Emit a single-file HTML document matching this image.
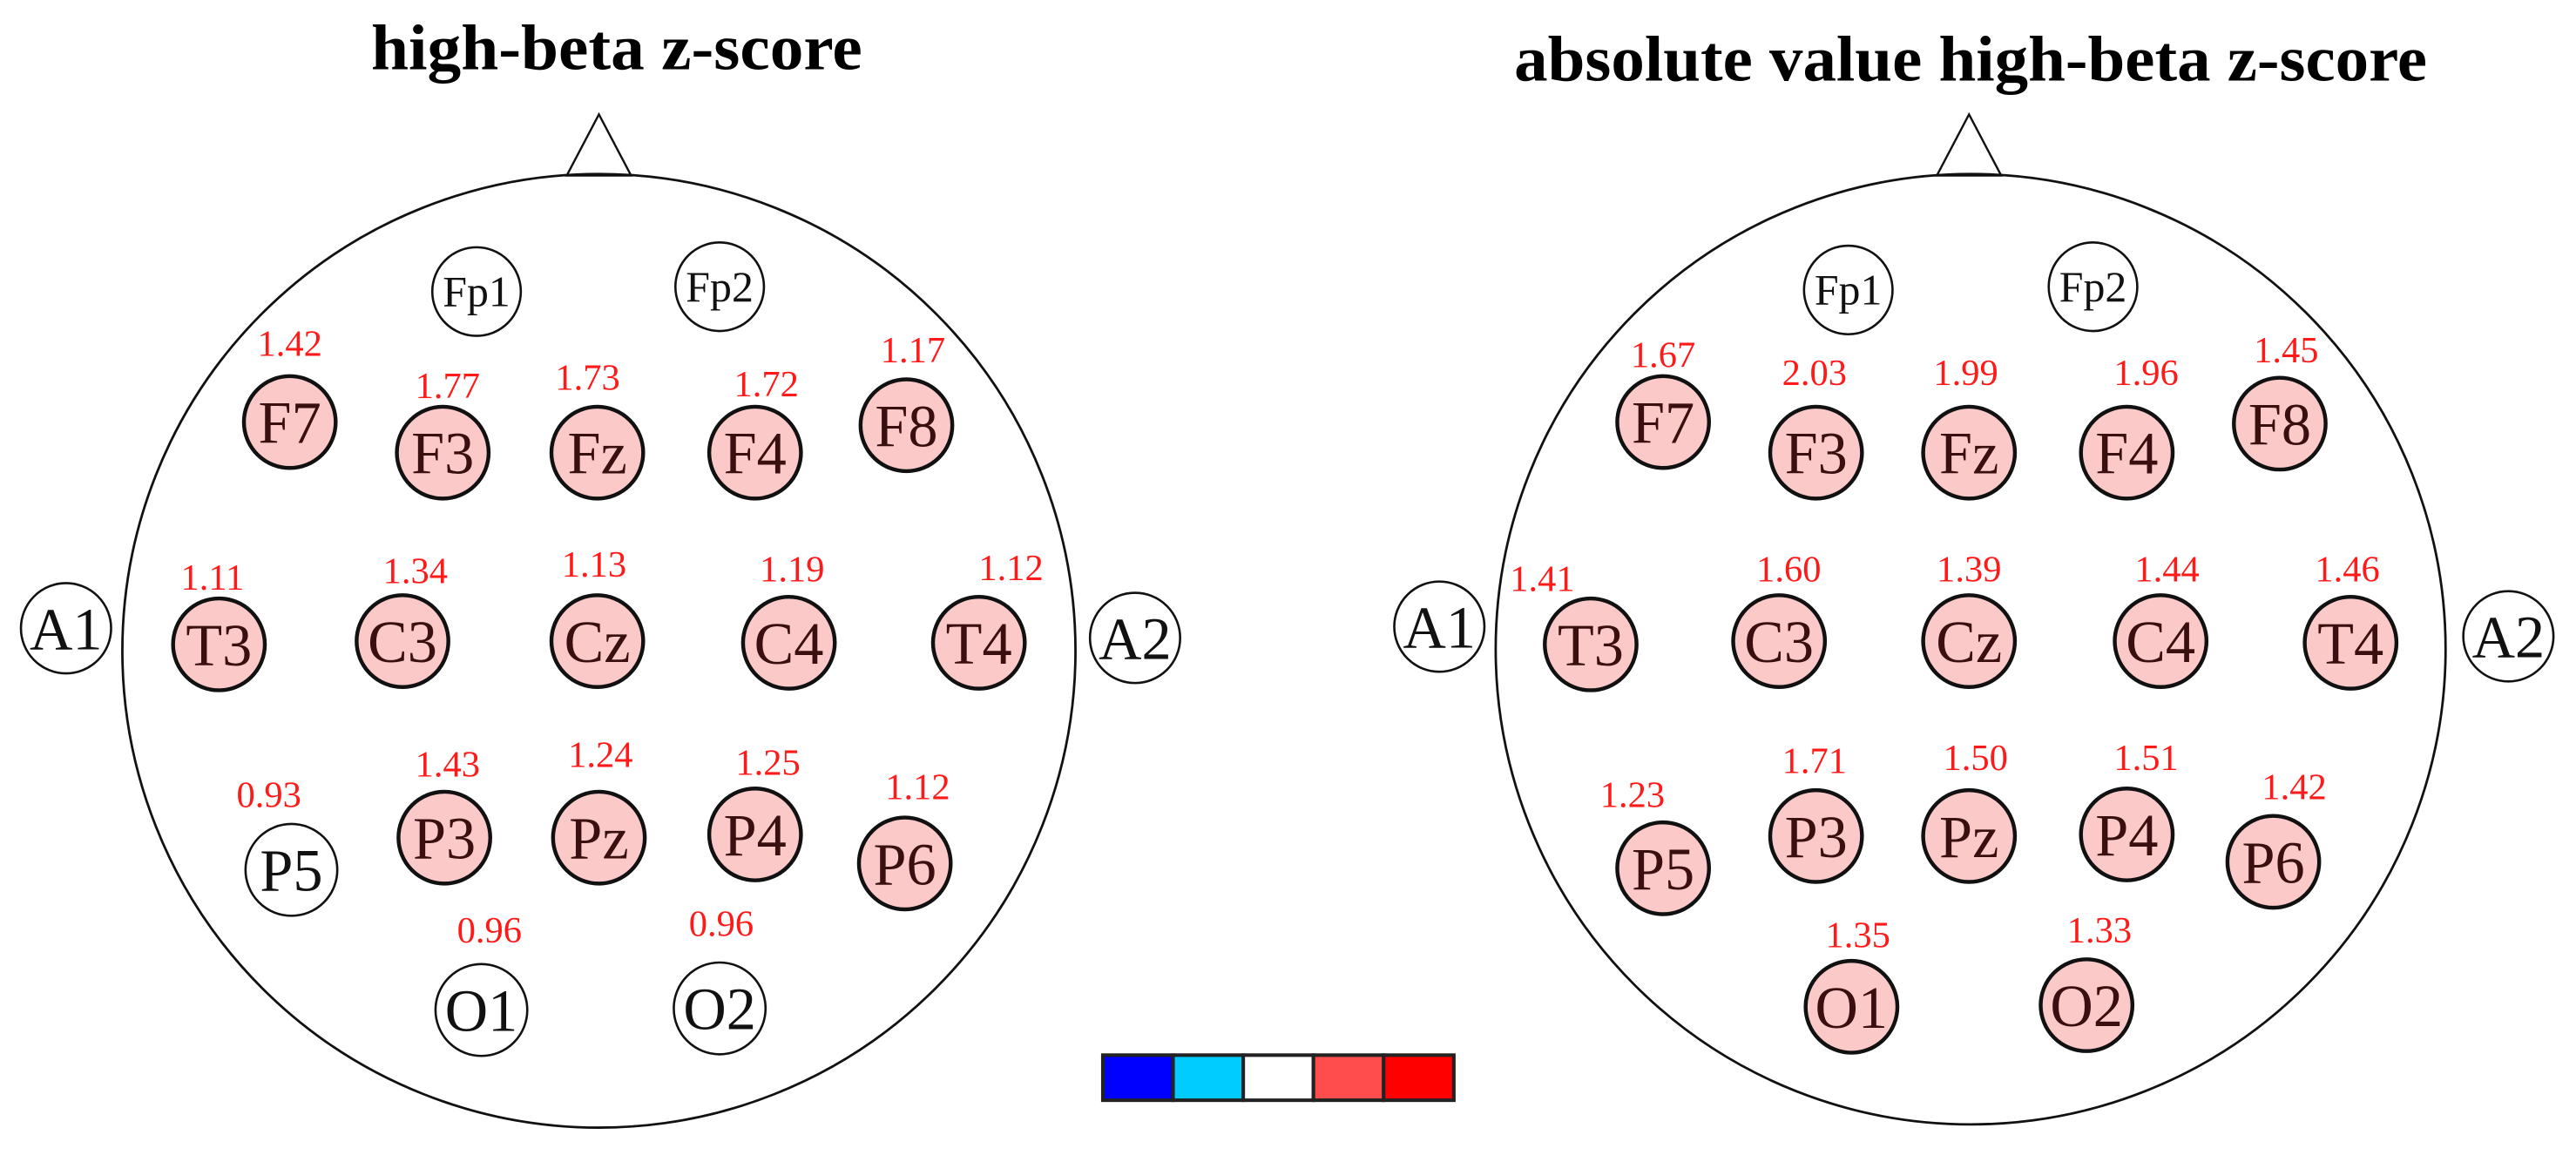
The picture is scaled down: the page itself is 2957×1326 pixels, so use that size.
<!DOCTYPE html>
<html><head><meta charset="utf-8"><style>
html,body{margin:0;padding:0;background:#fff;}
svg{display:block;}
text{font-family:"Liberation Serif",serif;}
</style></head><body>
<svg width="2957" height="1326" viewBox="0 0 1600 717" preserveAspectRatio="none" xmlns="http://www.w3.org/2000/svg">
<defs>
<style>
.n{fill:#fcc9c9;stroke:#111;stroke-width:2.4;}
.w{fill:#fff;stroke:#111;stroke-width:1.4;}
.l{font-size:37px;fill:#3a0f0f;text-anchor:middle;}
.k{font-size:37px;fill:#111;text-anchor:middle;}
.s{font-size:27px;fill:#111;text-anchor:middle;}
.v{font-size:23px;fill:#ff1a1a;text-anchor:middle;}
.t{font-size:40px;font-weight:bold;text-anchor:middle;fill:#000;}
</style>
</defs>
<!-- LEFT -->
<g>
<text class="t" x="383" y="43" textLength="305" lengthAdjust="spacingAndGlyphs">high-beta z-score</text>
<polygon points="372,71 352,109 392,109" fill="#fff" stroke="#111" stroke-width="1.3"/>
<circle cx="372" cy="404" r="296" fill="none" stroke="#111" stroke-width="1.5"/>
<circle class="w" cx="296" cy="181" r="27.5"/><text class="s" x="296" y="190">Fp1</text>
<circle class="w" cx="447" cy="178" r="27.5"/><text class="s" x="447" y="187">Fp2</text>
<circle class="w" cx="41" cy="390" r="28"/><text class="k" x="41" y="403">A1</text>
<circle class="w" cx="705" cy="396" r="28"/><text class="k" x="705" y="409">A2</text>
<circle class="n" cx="180" cy="262" r="28.5"/><text class="l" x="180" y="275">F7</text>
<circle class="n" cx="275" cy="281" r="28.5"/><text class="l" x="275" y="294">F3</text>
<circle class="n" cx="371" cy="281" r="28.5"/><text class="l" x="371" y="294">Fz</text>
<circle class="n" cx="469" cy="281" r="28.5"/><text class="l" x="469" y="294">F4</text>
<circle class="n" cx="563" cy="264" r="28.5"/><text class="l" x="563" y="277">F8</text>
<circle class="n" cx="136" cy="400" r="28.5"/><text class="l" x="136" y="413">T3</text>
<circle class="n" cx="250" cy="398" r="28.5"/><text class="l" x="250" y="411">C3</text>
<circle class="n" cx="371" cy="398" r="28.5"/><text class="l" x="371" y="411">Cz</text>
<circle class="n" cx="490" cy="399" r="28.5"/><text class="l" x="490" y="412">C4</text>
<circle class="n" cx="608" cy="399" r="28.5"/><text class="l" x="608" y="412">T4</text>
<circle class="w" cx="181" cy="540" r="28.5"/><text class="k" x="181" y="553">P5</text>
<circle class="n" cx="276" cy="520" r="28.5"/><text class="l" x="276" y="533">P3</text>
<circle class="n" cx="372" cy="520" r="28.5"/><text class="l" x="372" y="533">Pz</text>
<circle class="n" cx="469" cy="518" r="28.5"/><text class="l" x="469" y="531">P4</text>
<circle class="n" cx="562" cy="536" r="28.5"/><text class="l" x="562" y="549">P6</text>
<circle class="w" cx="299" cy="627" r="28.5"/><text class="k" x="299" y="640">O1</text>
<circle class="w" cx="447" cy="626" r="28.5"/><text class="k" x="447" y="639">O2</text>
<text class="v" x="180" y="221">1.42</text>
<text class="v" x="278" y="247">1.77</text>
<text class="v" x="365" y="242">1.73</text>
<text class="v" x="476" y="246">1.72</text>
<text class="v" x="567" y="225">1.17</text>
<text class="v" x="132" y="366">1.11</text>
<text class="v" x="258" y="362">1.34</text>
<text class="v" x="369" y="358">1.13</text>
<text class="v" x="492" y="361">1.19</text>
<text class="v" x="628" y="360">1.12</text>
<text class="v" x="167" y="501">0.93</text>
<text class="v" x="278" y="482">1.43</text>
<text class="v" x="373" y="476">1.24</text>
<text class="v" x="477" y="481">1.25</text>
<text class="v" x="570" y="496">1.12</text>
<text class="v" x="304" y="585">0.96</text>
<text class="v" x="448" y="581">0.96</text>
</g>
<!-- RIGHT -->
<g>
<text class="t" x="1224" y="50" textLength="567" lengthAdjust="spacingAndGlyphs">absolute value high-beta z-score</text>
<polygon points="1223,71 1203,109 1243,109" fill="#fff" stroke="#111" stroke-width="1.3"/>
<circle cx="1224" cy="403" r="295" fill="none" stroke="#111" stroke-width="1.5"/>
<circle class="w" cx="1148" cy="180" r="27.5"/><text class="s" x="1148" y="189">Fp1</text>
<circle class="w" cx="1300" cy="178" r="27.5"/><text class="s" x="1300" y="187">Fp2</text>
<circle class="w" cx="894" cy="389" r="28"/><text class="k" x="894" y="402">A1</text>
<circle class="w" cx="1558" cy="395" r="28"/><text class="k" x="1558" y="408">A2</text>
<circle class="n" cx="1033" cy="262" r="28.5"/><text class="l" x="1033" y="275">F7</text>
<circle class="n" cx="1128" cy="281" r="28.5"/><text class="l" x="1128" y="294">F3</text>
<circle class="n" cx="1223" cy="281" r="28.5"/><text class="l" x="1223" y="294">Fz</text>
<circle class="n" cx="1321" cy="281" r="28.5"/><text class="l" x="1321" y="294">F4</text>
<circle class="n" cx="1416" cy="263" r="28.5"/><text class="l" x="1416" y="276">F8</text>
<circle class="n" cx="988" cy="400" r="28.5"/><text class="l" x="988" y="413">T3</text>
<circle class="n" cx="1105" cy="398" r="28.5"/><text class="l" x="1105" y="411">C3</text>
<circle class="n" cx="1223" cy="398" r="28.5"/><text class="l" x="1223" y="411">Cz</text>
<circle class="n" cx="1342" cy="398" r="28.5"/><text class="l" x="1342" y="411">C4</text>
<circle class="n" cx="1460" cy="399" r="28.5"/><text class="l" x="1460" y="412">T4</text>
<circle class="n" cx="1033" cy="539" r="28.5"/><text class="l" x="1033" y="552">P5</text>
<circle class="n" cx="1128" cy="519" r="28.5"/><text class="l" x="1128" y="532">P3</text>
<circle class="n" cx="1223" cy="519" r="28.5"/><text class="l" x="1223" y="532">Pz</text>
<circle class="n" cx="1321" cy="518" r="28.5"/><text class="l" x="1321" y="531">P4</text>
<circle class="n" cx="1412" cy="535" r="28.5"/><text class="l" x="1412" y="548">P6</text>
<circle class="n" cx="1150" cy="625" r="28.5"/><text class="l" x="1150" y="638">O1</text>
<circle class="n" cx="1296" cy="624" r="28.5"/><text class="l" x="1296" y="637">O2</text>
<text class="v" x="1033" y="228">1.67</text>
<text class="v" x="1127" y="239">2.03</text>
<text class="v" x="1221" y="239">1.99</text>
<text class="v" x="1333" y="239">1.96</text>
<text class="v" x="1420" y="225">1.45</text>
<text class="v" x="958" y="367">1.41</text>
<text class="v" x="1111" y="361">1.60</text>
<text class="v" x="1223" y="361">1.39</text>
<text class="v" x="1346" y="361">1.44</text>
<text class="v" x="1458" y="361">1.46</text>
<text class="v" x="1014" y="501">1.23</text>
<text class="v" x="1127" y="480">1.71</text>
<text class="v" x="1227" y="478">1.50</text>
<text class="v" x="1333" y="478">1.51</text>
<text class="v" x="1425" y="496">1.42</text>
<text class="v" x="1154" y="588">1.35</text>
<text class="v" x="1304" y="585">1.33</text>
</g>
<!-- colorbar -->
<g stroke="#222" stroke-width="2.2">
<rect x="685" y="655" width="43.6" height="28" fill="#0000ff"/>
<rect x="728.6" y="655" width="43.6" height="28" fill="#00ccff"/>
<rect x="772.2" y="655" width="43.6" height="28" fill="#ffffff"/>
<rect x="815.8" y="655" width="43.6" height="28" fill="#ff4d4d"/>
<rect x="859.4" y="655" width="43.6" height="28" fill="#ff0000"/>
</g>
</svg>
</body></html>
